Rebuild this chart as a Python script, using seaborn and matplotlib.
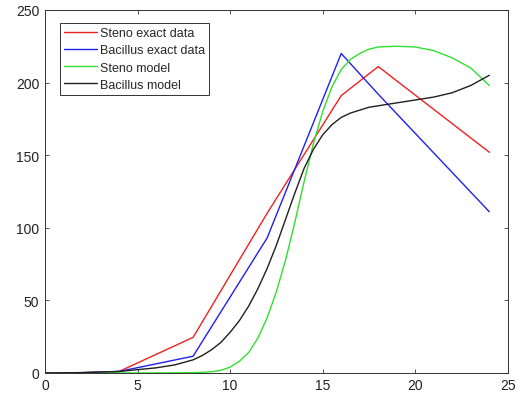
#!/usr/bin/env python3
"""Steno / Bacillus growth: exact data vs fitted model."""

import pandas as pd
import matplotlib
matplotlib.use('Agg')
import matplotlib.pyplot as plt
import seaborn as sns

# exact measurements
t_exact = [0, 2, 4, 8, 12, 16, 18, 24]
steno_exact = [0, 0.2, 1, 24.5, 110, 191, 211, 152]
bacillus_exact = [0, 0.2, 1, 11.5, 93, 220, 192, 111]

# model curves
t_model = [0, 2, 4, 6, 7, 8, 8.5, 9, 9.5, 10, 10.5, 11, 11.5, 12, 12.5, 13, 13.5,
           14, 14.5, 15, 15.5, 16, 16.5, 17, 17.5, 18, 19, 20, 21, 22, 23, 24]
steno_model = [0, 0, 0, 0, 0.1, 0.2, 0.4, 0.8, 1.8, 4, 8, 14, 24, 38, 56, 78, 104,
               132, 158, 180, 197, 209, 216, 220, 223, 224.5, 225, 224.5, 222, 217,
               210, 198]
bacillus_model = [0, 0.2, 1, 3.5, 5.5, 9, 12, 16, 21, 28, 36, 46, 58, 72, 88, 106,
                  124, 141, 154, 164, 171, 176, 179, 181, 183, 184, 186, 188, 190,
                  193, 198, 205]

labels = ['Steno exact data', 'Bacillus exact data', 'Steno model', 'Bacillus model']
colors = ['#f02020', '#2020f0', '#30e030', '#202020']

frames = []
for name, t, y in zip(labels,
                      [t_exact, t_exact, t_model, t_model],
                      [steno_exact, bacillus_exact, steno_model, bacillus_model]):
    frames.append(pd.DataFrame({'t': t, 'value': y, 'series': name}))
df = pd.concat(frames, ignore_index=True)

sns.set_style('white')
plt.rcParams['font.family'] = ['Liberation Sans', 'DejaVu Sans']

fig = plt.figure(figsize=(5.23, 4.06), dpi=100)
ax = fig.add_axes([0.086, 0.079, 0.885, 0.894])

sns.lineplot(data=df, x='t', y='value', hue='series', hue_order=labels,
             palette=colors, linewidth=1.0, sort=False, estimator=None, ax=ax)

ax.set_xlim(0, 25)
ax.set_ylim(0, 250)
ax.set_xticks([0, 5, 10, 15, 20, 25])
ax.set_yticks([0, 50, 100, 150, 200, 250])
ax.set_xlabel('')
ax.set_ylabel('')
ax.tick_params(direction='in', length=3, width=0.6, color='#333333',
               labelsize=10, labelcolor='#222222', top=True, right=True,
               bottom=True, left=True, pad=4)
for s in ax.spines.values():
    s.set_color('#333333')
    s.set_linewidth(0.7)

handles, _ = ax.get_legend_handles_labels()
leg = ax.legend(handles, labels, loc='upper left', bbox_to_anchor=(0.032, 0.965),
                fontsize=9, frameon=True, fancybox=False, edgecolor='black',
                handlelength=2.6, handletextpad=0.25, borderpad=0.35,
                labelspacing=0.42, borderaxespad=0)
leg.get_frame().set_linewidth(0.7)

fig.savefig('out.png', dpi=100)
plt.close(fig)
